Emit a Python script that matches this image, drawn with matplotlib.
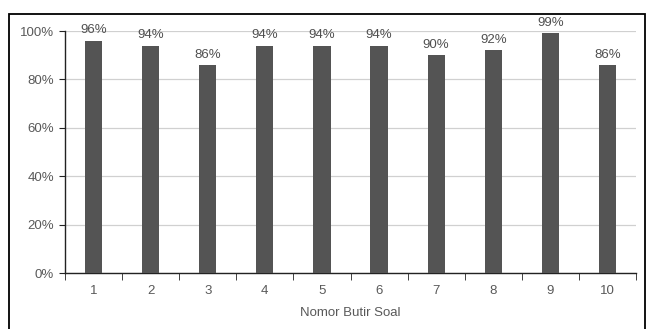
import numpy as np
import matplotlib.pyplot as plt
from matplotlib.patches import Rectangle
from matplotlib.ticker import FuncFormatter

plt.rcParams['font.family'] = ['Liberation Sans', 'DejaVu Sans']

butir = ['1', '2', '3', '4', '5', '6', '7', '8', '9', '10']
persen = [0.96, 0.94, 0.86, 0.94, 0.94, 0.94, 0.90, 0.92, 0.99, 0.86]
label = ['96%', '94%', '86%', '94%', '94%', '94%', '90%', '92%', '99%', '86%']

fig = plt.figure(figsize=(6.46, 3.29), dpi=100)
fig.patches.append(Rectangle((9/646, -0.05), 636/646, (329-14)/329+0.05,
                             transform=fig.transFigure, fill=False,
                             edgecolor='black', linewidth=1.3))
ax = fig.add_axes([65/646, 56/329, 571/646, 242/329])

x = np.arange(len(butir))
ax.bar(x, persen, width=0.3, color='#545454', zorder=3)
for xi, v, t in zip(x, persen, label):
    ax.text(xi, v + 0.018, t, ha='center', va='bottom', fontsize=9.5,
            color='#505050', clip_on=False)

ax.set_xlim(-0.5, len(butir) - 0.5)
ax.set_ylim(0, 1)
ax.set_yticks(np.arange(0, 1.01, 0.2))
ax.yaxis.set_major_formatter(FuncFormatter(lambda v, p: f'{v*100:.0f}%'))
ax.set_xticks(x)
ax.set_xticklabels(butir)
ax.set_xticks(np.arange(-0.5, len(butir)), minor=True)
ax.tick_params(axis='x', which='major', length=0, pad=9, labelsize=9.5, labelcolor='#595959')
ax.tick_params(axis='x', which='minor', length=5, direction='out', color='#222222')
ax.tick_params(axis='y', length=4, direction='out', labelsize=9.5, labelcolor='#595959', color='#222222', pad=4)
ax.grid(axis='y', color='#d0d0d0', linewidth=0.9, zorder=0)
for s in ['top', 'right']:
    ax.spines[s].set_visible(False)
for s in ['left', 'bottom']:
    ax.spines[s].set_color('#222222')
    ax.spines[s].set_linewidth(1.0)
ax.set_xlabel('Nomor Butir Soal', fontsize=9.5, color='#595959', labelpad=7)

fig.savefig('out.png', dpi=100)
